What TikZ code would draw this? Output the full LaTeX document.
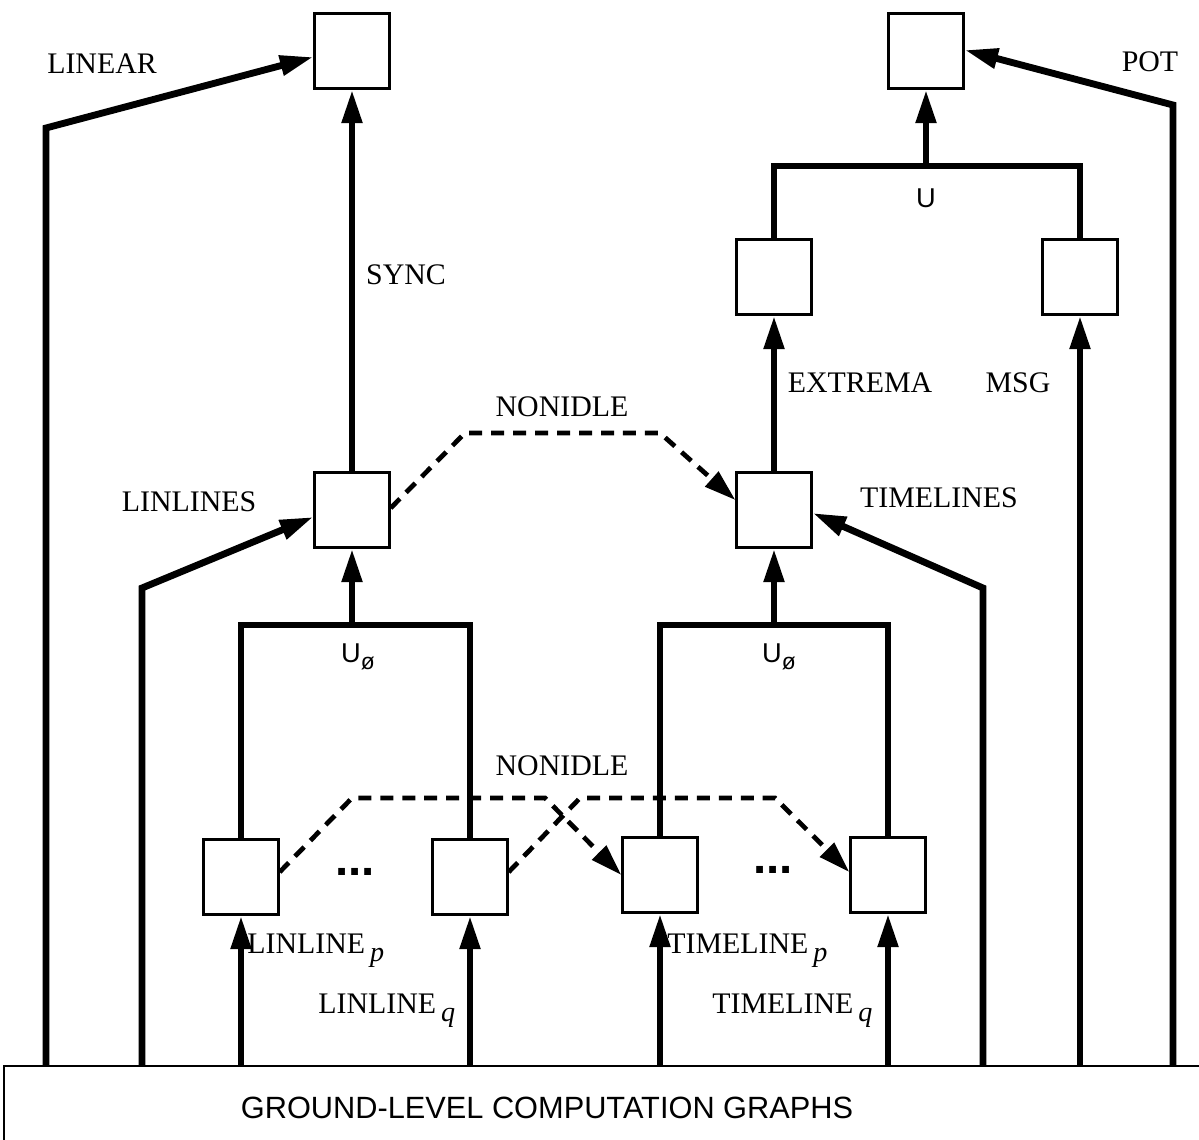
\documentclass[tikz,border=0pt]{standalone}
\usepackage{fontspec}
\setmainfont{Liberation Serif}
\setsansfont{Liberation Sans}
\usetikzlibrary{arrows.meta,calc}
\begin{document}
\begin{tikzpicture}[x=0.02cm,y=-0.02cm,
  box/.style={draw,line width=1.35pt,minimum size=1.5cm,inner sep=0pt,fill=white},
  thickline/.style={line width=3.9pt},
  thickarrow/.style={line width=3.9pt,-{Triangle[length=19pt,width=11pt]}},
  dasharrow/.style={line width=2.7pt,dash pattern=on 7.4pt off 5.1pt,-{Triangle[length=18pt,width=11pt]}},
  lbl/.style={inner sep=0pt,font=\fontsize{17}{20}\selectfont},
  ulbl/.style={inner sep=0pt,font=\sffamily\fontsize{15.5}{18}\selectfont},
  glbl/.style={inner sep=0pt,font=\sffamily\fontsize{17.5}{20}\selectfont},
  dotslbl/.style={inner sep=0pt,font=\sffamily\bfseries\fontsize{27}{30}\selectfont},
]
\newcommand{\ssub}[1]{\,\raisebox{-0.6ex}{\itshape\fontsize{16}{18}\selectfont #1}}
\newcommand{\uempty}{U\raisebox{-0.5ex}{\fontsize{13}{13}\selectfont ø}}
\useasboundingbox (0,0) rectangle (1199,1139);
\clip (0,0) rectangle (1199,1139);

% ground box
\node[draw,line width=1.35pt,anchor=north west,minimum width=25cm,minimum height=3cm,inner sep=0pt] (ground) at (3,1065) {};
\node[glbl] (groundtext) at (547,1108) {GROUND-LEVEL COMPUTATION GRAPHS};

% boxes
\node[box] (topL) at (352,51) {};
\node[box] (topR) at (926,51) {};
\node[box] (linlines) at (352,510) {};
\node[box] (timelines) at (774,510) {};
\node[box] (extrema) at (774,277) {};
\node[box] (msg) at (1080,277) {};
\node[box] (b1) at (241,877) {};
\node[box] (b2) at (470,877) {};
\node[box] (b3) at (660,875) {};
\node[box] (b4) at (888,875) {};

% helper coordinates
\coordinate (linearC) at (46,128);
\coordinate (potC) at (1173,105);
\coordinate (linlinesC) at (142,588);
\coordinate (timelinesC) at (983,588);
\coordinate (mergeL) at (352,625);
\coordinate (mergeR) at (774,625);
\coordinate (mergeT) at (926,166);
\coordinate (ndTop1) at (465,433);
\coordinate (ndTop2) at (660,433);
\coordinate (ndA1) at (352,798);
\coordinate (ndA2) at (545,798);
\coordinate (ndB1) at (580,798);
\coordinate (ndB2) at (775,798);

% long feeders from ground
\draw[thickarrow] (linearC |- ground.north) -- (linearC) -- ($(topL.west)+(0,6)$);
\draw[thickarrow] (potC |- ground.north) -- (potC) -- ($(topR.east)+(0,-1)$);
\draw[thickarrow] (linlinesC |- ground.north) -- (linlinesC) -- ($(linlines.west)+(0,7)$);
\draw[thickarrow] (timelinesC |- ground.north) -- (timelinesC) -- ($(timelines.east)+(0,3)$);
\draw[thickarrow] (msg.south |- ground.north) -- (msg.south);
\draw[thickarrow] (b1.south |- ground.north) -- (b1.south);
\draw[thickarrow] (b2.south |- ground.north) -- (b2.south);
\draw[thickarrow] (b3.south |- ground.north) -- (b3.south);
\draw[thickarrow] (b4.south |- ground.north) -- (b4.south);

% merges
\draw[thickline] (b1.north) -- (b1.north |- mergeL) -- (b2.north |- mergeL) -- (b2.north);
\draw[thickarrow] (mergeL) -- (linlines.south);
\draw[thickline] (b3.north) -- (b3.north |- mergeR) -- (b4.north |- mergeR) -- (b4.north);
\draw[thickarrow] (mergeR) -- (timelines.south);
\draw[thickline] (extrema.north) -- (extrema.north |- mergeT) -- (msg.north |- mergeT) -- (msg.north);
\draw[thickarrow] (mergeT) -- (topR.south);

% vertical arrows
\draw[thickarrow] (linlines.north) -- (topL.south);
\draw[thickarrow] (timelines.north) -- (extrema.south);

% dashed NONIDLE
\draw[dasharrow] ($(linlines.east)+(0,-2)$) -- (ndTop1) -- (ndTop2) -- ($(timelines.west)+(0,-10)$);
\draw[dasharrow] ($(b1.east)+(0,-5)$) -- (ndA1) -- (ndA2) -- ($(b3.west)+(0,0)$);
\draw[dasharrow] ($(b2.east)+(0,-5)$) -- (ndB1) -- (ndB2) -- ($(b4.west)+(0,-3)$);

% labels
\node[lbl] (tLinear) at (102,64) {LINEAR};
\node[lbl] (tPot) at (1150,62) {POT};
\node[lbl] (tSync) at (406,275) {SYNC};
\node[lbl] (tExtrema) at (860,383) {EXTREMA};
\node[lbl] (tMsg) at (1018,383) {MSG};
\node[lbl] (tNonidle1) at (562,407) {NONIDLE};
\node[lbl] (tNonidle2) at (562,766) {NONIDLE};
\node[lbl] (tLinlines) at (189,502) {LINLINES};
\node[lbl] (tTimelines) at (939,498) {TIMELINES};
\node[lbl,anchor=base west] (tLinp) at (247,953) {LINLINE\ssub{p}};
\node[lbl,anchor=base west] (tLinq) at (318,1013) {LINLINE\ssub{q}};
\node[lbl,anchor=base west] (tTimp) at (667,953) {TIMELINE\ssub{p}};
\node[lbl,anchor=base west] (tTimq) at (712,1013) {TIMELINE\ssub{q}};
\node[ulbl] (tU) at (926,198) {U};
\node[ulbl] (tU1) at (358,657) {\uempty};
\node[ulbl] (tU2) at (779,657) {\uempty};
\node[dotslbl] (dots1) at (355,872) {...};
\node[dotslbl] (dots2) at (773,870) {...};
\end{tikzpicture}
\end{document}
